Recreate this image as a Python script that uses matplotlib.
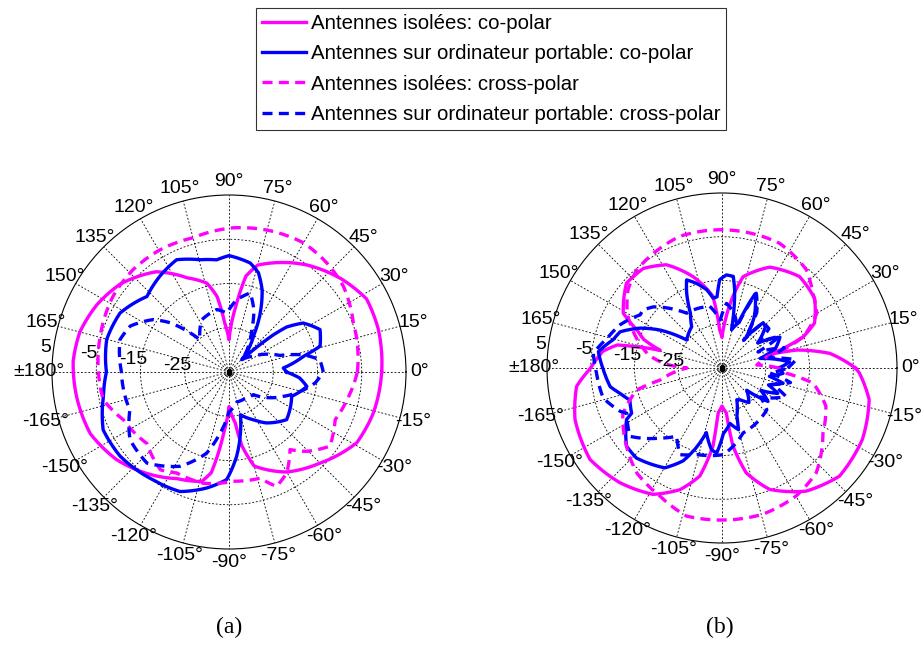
import numpy as np
import matplotlib.pyplot as plt

plt.rcParams['font.family'] = ['Liberation Sans', 'DejaVu Sans']

# angles in degrees (counterclockwise from 0°), gains in dB
# ---- (a) ----
a_iso_co_ang = [0, 16, 28, 40, 54, 68, 75, 80, 84, 90, 95, 99, 104, 114, 126, 141, 153, 165, 176,
                189, 204, 218, 231, 244, 256, 260, 265, 270, 277, 280, 285, 300, 315, 331, 344, 360]
a_iso_co_db = [-0.5, 0.1, 0.2, -2.1, -5.1, -8.4, -10.0, -13, -20, -27.7, -23.9, -17.7, -14.3, -11.7, -7, -3.4, -1.5, -0.1, 0.3,
               -0.1, -0.7, -2.8, -5.5, -8.2, -9.5, -11.9, -21.1, -27.2, -23.4, -18, -13, -8.9, -5.9, -2, -1.1, -0.5]

a_lap_co_ang = [0, 4.2, 11.9, 15.8, 25, 33.4, 38, 40, 42, 44, 50, 56, 62, 68, 73.5, 79, 90, 96.3, 104.5, 115,
                125.8, 137.4, 151.6, 165, 180, 191, 204.7, 217.7, 235, 247.7, 259.1, 268.8, 275.2, 285, 297,
                306.4, 320.4, 338.8, 349.5, 355.2, 360]
a_lap_co_db = [-22, -22.7, -17.8, -13.6, -12.3, -14.9, -18.5, -22, -27, -31, -28, -25, -20, -15, -11.6, -9.9, -8.7, -9.5, -8.8, -7,
               -8.3, -9.8, -7, -6.4, -7.3, -6.1, -3.7, -3.9, -5.2, -5.8, -8.3, -10.7, -15.9, -25, -22.9,
               -20.7, -18.1, -19.8, -17.1, -19, -22]

a_iso_x_ang = [0, 21.5, 36.8, 48, 60, 72.5, 88.3, 105, 119.4, 133, 146.8, 164.5, 180, 192.4, 204.3, 221, 235,
               242.6, 257, 272.3, 286.3, 292.6, 299.7, 308.2, 314.4, 323.7, 335.8, 346.8, 360]
a_iso_x_db = [-6.0, -4.8, -2.7, -1.9, -1.3, -1.7, -2.4, -3.6, -3.3, -3.3, -3.7, -4.8, -5.5, -5.9, -8.8, -10.4, -8.0,
              -9.3, -9.2, -10.3, -10.0, -7.0, -8.7, -12.7, -9.9, -6.7, -8.7, -7.6, -6.0]

a_lap_x_ang = [0, 7.7, 13, 18, 33, 44, 55, 62, 68, 75, 84, 92, 101, 117.6, 131.9, 140, 145.3, 155, 163.5, 180,
               201, 214.4, 228, 242.6, 254.6, 261.6, 270, 285, 300, 317, 336, 352.7, 360]
a_lap_x_db = [-13.7, -14.3, -17.7, -22.9, -28.4, -31, -27, -24, -20, -16.5, -18.6, -21.7, -20.6, -21.7, -25.2, -17.7, -14.2, -10.4, -9.3, -10.7,
              -11, -7.9, -7.3, -11, -16, -21, -26, -28, -28, -27.5, -21.5, -15.4, -13.7]

# ---- (b) ----
b_iso_co_ang = [0, 7.7, 13.5, 16.2, 17.2, 21, 25.9, 37, 49.7, 64.7, 77, 81.3, 86, 90, 93.5, 97.2, 107.6, 118.3,
                128.3, 138.4, 151, 156, 160, 164, 167.6, 172, 180, 187.2, 199.3, 214.7, 228.3, 241.4, 251,
                258.4, 263.4, 265, 270, 275.5, 278, 283, 291.4, 304.4, 317.4, 333, 347.9, 358, 360]
b_iso_co_db = [-4.5, -10.1, -17.4, -24.4, -21.1, -15.1, -11.5, -8.5, -7.6, -9.5, -13.6, -18.4, -24, -28, -26.3, -18.5, -13.1, -8.2,
               -6, -5.8, -9.2, -13.8, -16, -20.3, -10.5, -7.5, -5.0, -1.5, 0.6, 1.7, 0.1, -2.1, -5.6,
               -9.8, -17, -24.7, -26.3, -24.7, -17, -10.4, -5.2, -0.9, 1.5, 1.0, -0.6, -3.6, -4.5]

b_lap_co_ang = [0, 5, 8, 14, 20, 28, 35, 43.6, 47.7, 52, 58, 65.5, 66, 70, 76, 80.8, 83, 87.3, 91.5, 94, 97.3, 101,
                106.8, 111.9, 115.3, 120, 126.3, 141.6, 148.5, 154, 160.4, 165.4, 172.5, 181, 189.5, 194, 199.2, 206.6,
                208.4, 219.3, 226.4, 240.2, 247.3, 252, 256.4, 262.6, 266.4, 271.2, 278.2, 285, 287, 295,
                300, 308, 318, 324, 330, 335.5, 340, 346, 350, 355, 360]
b_lap_co_db = [-22, -19.5, -21.6, -26, -22, -20, -25, -21.3, -21, -26, -21, -16.7, -16.5, -24, -26, -16.9, -13.9, -13.7, -14.8, -18.7, -18.9, -16.8,
               -14.8, -13.3, -16.1, -20.6, -23.3, -24.7, -18.4, -14.2, -10.3, -9.3, -6.5, -7.9, -9.1, -11, -12.7, -11.9,
               -10.2, -6.8, -6.6, -8.7, -12, -15.8, -19.8, -16.2, -15.5, -20, -22.2, -20.4, -23.4, -27,
               -26.6, -25, -27.4, -22, -24.7, -21, -23.7, -20.6, -24, -21, -22]

b_iso_x_ang = [0, 5, 10, 14, 16.4, 21, 30, 39.5, 49.4, 65.2, 90, 107.8, 131, 140, 150, 160, 170, 176, 180,
               191, 194.4, 205, 219.3, 231, 244, 256.5, 270, 285.6, 300.1, 312, 327, 339.8, 350.6, 355.3, 360]
b_iso_x_db = [-22, -27, -26, -24.5, -20.5, -15.1, -10, -8.1, -5.4, -3.6, -3.4, -3.4, -5.3, -7, -10, -14, -18, -22, -27,
              -20.6, -14.9, -10, -6.8, -4.1, -2.5, -0.2, -0.25, -0.3, -1.2, -2.8, -7.5, -9.7, -13.9, -20.2, -22]

b_lap_x_ang = [0, 6.4, 12, 18, 24, 28.8, 35, 40, 47.7, 52, 58, 65.4, 70, 78, 86, 92, 101.3, 116.3, 122.8, 128,
               138.3, 143.7, 147, 157, 165.5, 173.5, 182.4, 194.2, 203, 205.4, 216.6, 228.5, 236.4, 244.2, 253.7,
               271, 288, 306, 317, 323, 336, 342, 348, 354, 360]
b_lap_x_db = [-20, -18, -24, -20, -26, -20, -25, -21, -21, -27, -20, -16.2, -25, -22, -20.2, -24, -20.6, -20.2, -20.1, -18.2,
              -14, -12.6, -12.7, -9.7, -7.9, -5.4, -6.3, -7, -9.7, -10.9, -8.8, -13.6, -16.3, -13, -14.4,
              -15.2, -19.4, -20.4, -21, -24, -19, -23, -19, -24, -20]

labels = ['Antennes isolées: co-polar',
          'Antennes sur ordinateur portable: co-polar',
          'Antennes isolées: cross-polar',
          'Antennes sur ordinateur portable: cross-polar']

r_min, r_max = -35, 5
r_rings = [-25, -15, -5]
r_text = [-25, -15, -5, 5]

MAG = '#ff00ff'
BLU = '#0000ff'
dash = (0, (3.0, 1.9))


def setup(ax):
    ax.set_ylim(r_min, r_max)
    ax.set_rgrids(r_rings, labels=['' for _ in r_rings])
    th = np.arange(0, 360, 15)
    ax.set_thetagrids(th, ['' for _ in th])
    ax.tick_params(axis='x', length=0)
    ax.grid(True, color='black', linestyle=(0, (2.2, 2.2)), linewidth=0.6)
    ax.spines['polar'].set_color('black')
    ax.spines['polar'].set_linewidth(0.8)
    # MATLAB-style angle labels, centred just outside the circle
    for t in th:
        d = t if t <= 180 else t - 360
        lab = '±180°' if t == 180 else f'{d}°'
        ax.text(np.deg2rad(t), r_max + 3.0, lab, ha='center', va='center', fontsize=14, clip_on=False)
    for v in r_text:
        ax.text(np.deg2rad(172.5), v + 1.9, str(v), ha='center', va='center', fontsize=14, clip_on=False)
    ax.plot([0], [r_min], 's', color='black', ms=3)


def draw(ax, iso_co, lap_co, iso_x, lap_x):
    h1, = ax.plot(np.deg2rad(iso_co[0]), iso_co[1], color=MAG, lw=2.4, label=labels[0])
    h2, = ax.plot(np.deg2rad(lap_co[0]), lap_co[1], color=BLU, lw=2.4, label=labels[1])
    h3, = ax.plot(np.deg2rad(iso_x[0]), iso_x[1], color=MAG, lw=2.4, linestyle=dash, label=labels[2])
    h4, = ax.plot(np.deg2rad(lap_x[0]), lap_x[1], color=BLU, lw=2.4, linestyle=dash, label=labels[3])
    hs = [h1, h2, h3, h4]
    # draw segments as arcs in polar space instead of straight chords
    for h in hs:
        h.get_path()._interpolation_steps = 20
    return hs


fig = plt.figure(figsize=(9.24, 6.68), dpi=100)
ax1 = fig.add_axes([52 / 924, 1 - 549 / 668, 354 / 924, 354 / 668], projection='polar')
ax2 = fig.add_axes([547 / 924, 1 - 543 / 668, 350 / 924, 350 / 668], projection='polar')

setup(ax1)
setup(ax2)
handles = draw(ax1, (a_iso_co_ang, a_iso_co_db), (a_lap_co_ang, a_lap_co_db),
               (a_iso_x_ang, a_iso_x_db), (a_lap_x_ang, a_lap_x_db))
draw(ax2, (b_iso_co_ang, b_iso_co_db), (b_lap_co_ang, b_lap_co_db),
     (b_iso_x_ang, b_iso_x_db), (b_lap_x_ang, b_lap_x_db))

leg = fig.legend(handles=handles, loc='upper center', bbox_to_anchor=(491 / 924, 1 - 8 / 668),
                 fontsize=14.7, frameon=True, fancybox=False, handlelength=2.15, handletextpad=0.25,
                 labelspacing=0.55, borderpad=0.3, borderaxespad=0)
leg.get_frame().set_edgecolor('black')
leg.get_frame().set_linewidth(0.8)

fig.text(229 / 924, 1 - 627 / 668, '(a)', ha='center', va='center', fontsize=17, family='Liberation Serif')
fig.text(720 / 924, 1 - 627 / 668, '(b)', ha='center', va='center', fontsize=17, family='Liberation Serif')

fig.savefig('out.png', dpi=100)
